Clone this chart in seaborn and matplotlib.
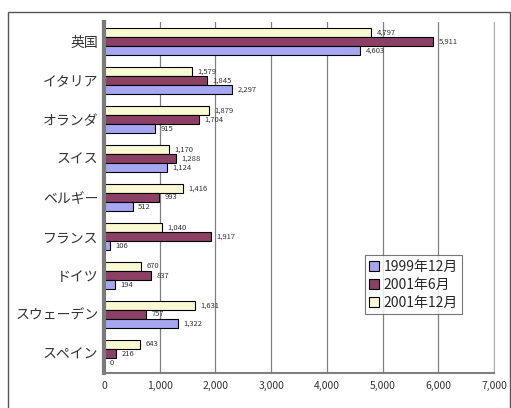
import matplotlib
matplotlib.use("Agg")
import matplotlib.pyplot as plt
import seaborn as sns
import pandas as pd
from matplotlib.patches import Rectangle

countries = ["英国", "イタリア", "オランダ", "スイス", "ベルギー",
             "フランス", "ドイツ", "スウェーデン", "スペイン"]
periods = ["1999年12月", "2001年6月", "2001年12月"]
dec_1999 = [4603, 2297, 915, 1124, 512, 106, 194, 1322, 0]
jun_2001 = [5911, 1845, 1704, 1288, 993, 1917, 837, 757, 216]
dec_2001 = [4797, 1579, 1879, 1170, 1416, 1040, 670, 1631, 643]
x_ticks = [0, 1000, 2000, 3000, 4000, 5000, 6000, 7000]

colors = {"1999年12月": "#9999FF", "2001年6月": "#993366", "2001年12月": "#FFFFCC"}

rows = []
for name, vals in zip(periods, [dec_1999, jun_2001, dec_2001]):
    for c, v in zip(countries, vals):
        rows.append({"国": c, "期間": name, "値": v})
df = pd.DataFrame(rows)

sns.set_theme(style="white")
plt.rcParams["font.family"] = ["Noto Sans CJK JP", "DejaVu Sans"]

fig = plt.figure(figsize=(5.11, 4.08), dpi=100)
ax = fig.add_axes([104 / 511, 35 / 408, 390 / 511, 351 / 408])

hue_order = periods[::-1]  # newest bar on top within each group
sns.barplot(data=df, y="国", x="値", hue="期間", order=countries,
            hue_order=hue_order, palette=colors, orient="h",
            edgecolor="black", linewidth=0.8, width=0.7, ax=ax)

ax.set_xlim(0, 7000)
ax.set_xticks(x_ticks)
ax.set_xticklabels([f"{t:,}" for t in x_ticks], fontsize=7.5, color="#333333")
ax.tick_params(axis="y", labelsize=10, colors="#333333", length=0, pad=4)
ax.tick_params(axis="x", length=0, pad=6)
ax.set_xlabel("")
ax.set_ylabel("")
ax.xaxis.grid(True, color="#808080", linewidth=0.9)
ax.set_axisbelow(True)

ax.spines["top"].set_visible(False)
ax.spines["right"].set_color("#b0b0b0")
ax.spines["right"].set_linewidth(0.8)
ax.spines["bottom"].set_color("#808080")
ax.spines["bottom"].set_linewidth(1.5)
ax.spines["left"].set_color("#7a7a7a")
ax.spines["left"].set_linewidth(3)

for cont in ax.containers:
    ax.bar_label(cont, labels=[f"{int(b.get_width()):,}" for b in cont],
                 padding=4, fontsize=5.5, color="#333333")

# Legend in the order of the periods
handles, labels = ax.get_legend_handles_labels()
lut = dict(zip(labels, handles))
leg = ax.legend([lut[p] for p in periods], periods, loc="upper left",
                bbox_to_anchor=(0.67, 0.335), fontsize=10, frameon=True,
                fancybox=False, edgecolor="#555555", handlelength=0.7,
                handleheight=0.7, handletextpad=0.3, borderpad=0.3,
                labelspacing=0.3, borderaxespad=0)
leg.get_frame().set_linewidth(0.8)

# Outer chart frame
fig.patches.append(Rectangle((8 / 511, -0.02), 502 / 511, (396 / 408) + 0.02,
                             transform=fig.transFigure, fill=False,
                             edgecolor="#555555", linewidth=1))

fig.savefig("out.png", dpi=100)
